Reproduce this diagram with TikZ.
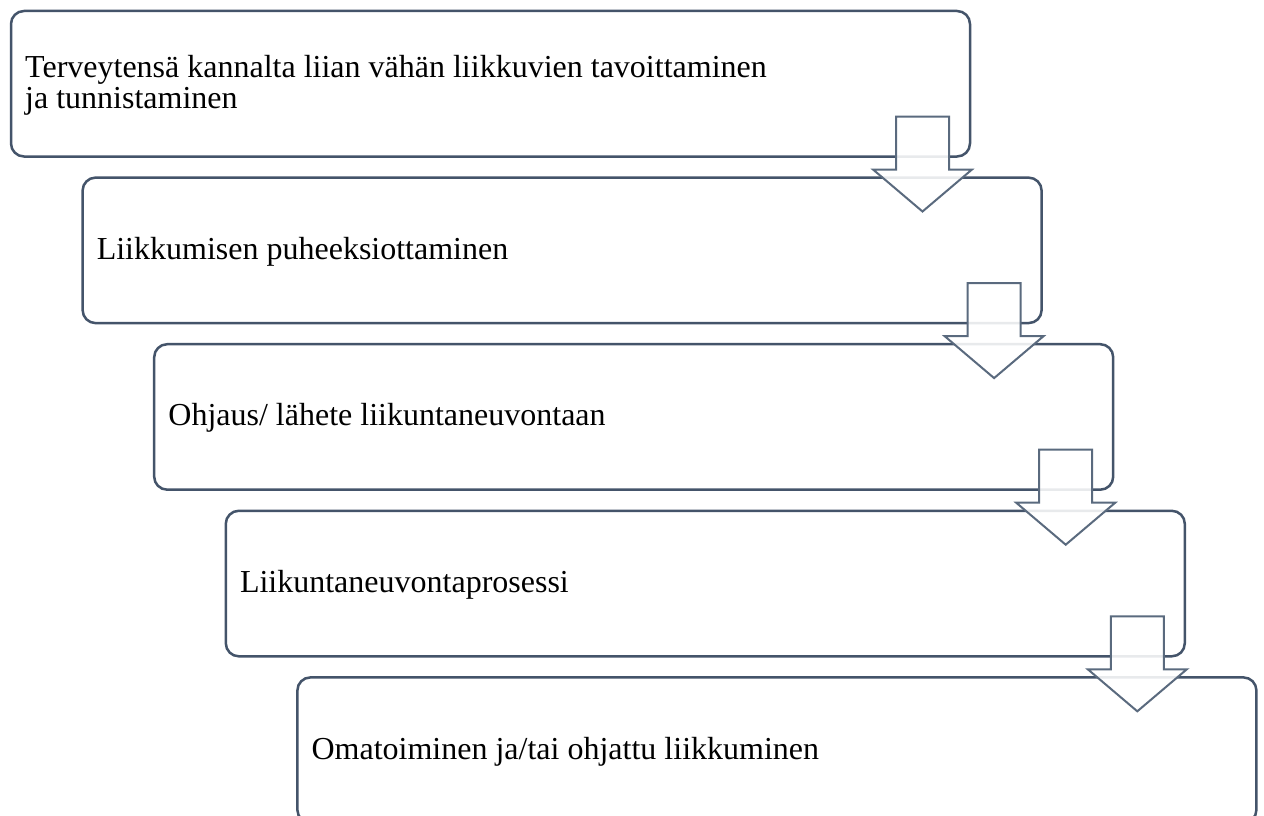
\documentclass[tikz,border=0pt]{standalone}
\usepackage{fontspec}
\setmainfont{Liberation Serif}
\usetikzlibrary{calc}
\definecolor{boxline}{HTML}{44546A}
\definecolor{arrline}{HTML}{5A6A7E}
\tikzset{
  stepbox/.style={draw=boxline, line width=2.5pt, rounded corners=13pt,
    minimum width=959pt, minimum height=145.5pt, inner sep=0pt, outer sep=0pt},
  steptext/.style={anchor=base west, inner sep=0pt, text=black,
    font=\fontsize{32}{31}\selectfont},
  blockarr/.style={draw=arrline, line width=2pt, fill=white, fill opacity=0.88,
    line join=miter}
}
\newcommand\downblock[1]{%
  \draw[blockarr] ($(#1.south east)+(-74,-40)$) coordinate (#1-a1)
    -- ++(53,0) -- ++(0,53) -- ++(23,0)
    -- ($(#1.south east)+(-47.5,55)$) coordinate (#1-tip)
    -- ($(#1.south east)+(-97,13)$) -- ++(23,0) -- cycle;}
\begin{document}
\begin{tikzpicture}[x=1pt,y=-1pt]
  \useasboundingbox (0,0) rectangle (1264,816);
  \clip (0,0) rectangle (1264,816);
  \fill[white] (0,0) rectangle (1264,816);
  \foreach \i in {0,...,4}{
    \node[stepbox] (b\i) at ({11+71.6*\i+479.5},{11+166.6*\i+72.75}) {};
  }
  \node[steptext] (t0) at ($(b0.west)+(14,-6)$) {Terveytensä kannalta liian vähän liikkuvien tavoittaminen};
  \node[steptext] (t0b) at ($(b0.west)+(14,25)$) {ja tunnistaminen};
  \node[steptext] (t1) at ($(b1.west)+(14,9)$) {Liikkumisen puheeksiottaminen};
  \node[steptext] (t2) at ($(b2.west)+(14,9)$) {Ohjaus/ lähete liikuntaneuvontaan};
  \node[steptext] (t3) at ($(b3.west)+(14,9)$) {Liikuntaneuvontaprosessi};
  \node[steptext] (t4) at ($(b4.west)+(14,9)$) {Omatoiminen ja/tai ohjattu liikkuminen};
  \downblock{b0}
  \downblock{b1}
  \downblock{b2}
  \downblock{b3}
\end{tikzpicture}
\end{document}
